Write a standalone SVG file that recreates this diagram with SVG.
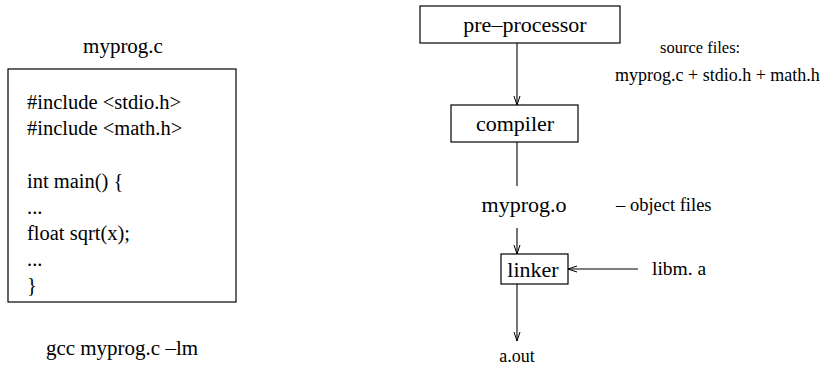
<svg xmlns="http://www.w3.org/2000/svg" width="829" height="366" viewBox="0 0 829 366" font-family="'Liberation Serif', 'DejaVu Serif', serif">
<style>
text{font-family:'Liberation Serif','DejaVu Serif',serif;fill:#000}
.lg{font-size:22px}
.code{font-size:20.5px}
.sm{font-size:18.5px}
.box{fill:#fff;stroke:#000;stroke-width:1.2}
.ln{fill:none;stroke:#000;stroke-width:1.1}
</style>
<defs>
<marker id="ah" markerWidth="10" markerHeight="8" refX="9" refY="4" orient="auto" markerUnits="userSpaceOnUse">
<path d="M0,1 L9,4 L0,7" fill="none" stroke="#000" stroke-width="1"/>
</marker>
</defs>
<g id="source">
<text class="lg" x="123" y="53" text-anchor="middle" style="font-size:21px">myprog.c</text>
<rect class="box" x="8" y="69" width="228" height="233"/>
<text class="code" x="27" y="109">#include &lt;stdio.h&gt;</text>
<text class="code" x="27" y="135">#include &lt;math.h&gt;</text>
<text class="code" x="27" y="188">int main() {</text>
<text class="code" x="27" y="214">...</text>
<text class="code" x="27" y="240">float sqrt(x);</text>
<text class="code" x="27" y="266">...</text>
<text class="code" x="27" y="292">}</text>
<text class="lg" x="122" y="355" text-anchor="middle" style="font-size:21px">gcc myprog.c –lm</text>
</g>
<g id="connectors">
<line class="ln" x1="517" y1="43" x2="517" y2="105" marker-end="url(#ah)"/>
<line class="ln" x1="517" y1="142" x2="517" y2="186"/>
<line class="ln" x1="517" y1="228" x2="517" y2="254" marker-end="url(#ah)"/>
<line class="ln" x1="638" y1="269" x2="568" y2="269" marker-end="url(#ah)"/>
<line class="ln" x1="517" y1="284" x2="517" y2="341" marker-end="url(#ah)"/>
</g>
<g id="preprocessor">
<rect class="box" x="420" y="6" width="200" height="37"/>
<text class="lg" x="525" y="32" text-anchor="middle">pre–processor</text>
</g>
<g id="compiler">
<rect class="box" x="451" y="105" width="127" height="37"/>
<text class="lg" x="515" y="131" text-anchor="middle">compiler</text>
</g>
<g id="object">
<text class="lg" x="524" y="212" text-anchor="middle">myprog.o</text>
<text class="sm" x="616" y="211">– object files</text>
</g>
<g id="linker">
<rect class="box" x="501" y="254" width="67" height="30"/>
<text class="lg" x="533" y="277" text-anchor="middle">linker</text>
</g>
<g id="libm">
<text class="sm" x="652" y="275" style="font-size:19.5px">libm. a</text>
</g>
<g id="aout">
<text class="sm" x="517" y="362" text-anchor="middle" style="font-size:18px">a.out</text>
</g>
<g id="sources">
<text class="sm" x="660" y="53" style="font-size:16.5px">source files:</text>
<text class="sm" x="615" y="81" style="font-size:18px">myprog.c + stdio.h + math.h</text>
</g>
</svg>
